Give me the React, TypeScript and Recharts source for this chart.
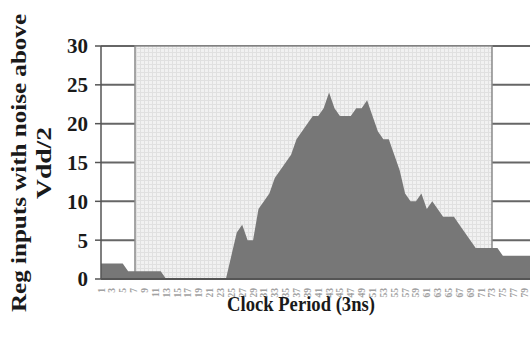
import React from "react";
import {
  AreaChart,
  Area,
  XAxis,
  YAxis,
  CartesianGrid,
  ReferenceArea,
} from "recharts";

// Number of register inputs with noise above Vdd/2, per clock period
const noiseCounts: number[] = [
  2, 2, 2, 2, 2, 1, 1, 1, 1, 1,
  1, 1, 0, 0, 0, 0, 0, 0, 0, 0,
  0, 0, 0, 0, 3, 6, 7, 5, 5, 9,
  10, 11, 13, 14, 15, 16, 18, 19, 20, 21,
  21, 22, 24, 22, 21, 21, 21, 22, 22, 23,
  21, 19, 18, 18, 16, 14, 11, 10, 10, 11,
  9, 10, 9, 8, 8, 8, 7, 6, 5, 4,
  4, 4, 4, 4, 3, 3, 3, 3, 3, 3,
];
const periods: number[] = noiseCounts.map((_, i) => i + 1);
const yTicks: number[] = [0, 5, 10, 15, 20, 25, 30];
const xTicks: number[] = periods.filter((p) => p % 2 === 1);
const windowStart = 7.26;
const windowEnd = 73.0;

const data = periods.map((p, i) => ({ period: p, count: noiseCounts[i] }));

const SERIF = "'Liberation Serif', 'Times New Roman', serif";

const XTick = (props: any) => {
  const { x, y, payload } = props;
  return (
    <g transform={`translate(${x},${y + 1})`}>
      <text
        transform="rotate(-90)"
        textAnchor="end"
        dy={3.5}
        fontSize={9.5}
        fontFamily={SERIF}
        fontWeight="bold"
        fill="#a2a2a2"
      >
        {payload.value}
      </text>
    </g>
  );
};

export default function App() {
  return (
    <div style={{ width: 530, height: 339, background: "#fff" }}>
      <style>{`body{margin:0;background:#fff}`}</style>
      <AreaChart
        width={530}
        height={339}
        data={data}
        margin={{ top: 46, right: 0, bottom: 40, left: 0 }}
      >
        <defs>
          <pattern id="shadeGrid" width="4" height="4" patternUnits="userSpaceOnUse">
            <rect width="4" height="4" fill="#f1f1f1" />
            <path d="M0 0.5H4 M0.5 0V4" stroke="#e0e0e0" strokeWidth="1" />
          </pattern>
        </defs>
        <ReferenceArea
          x1={windowStart}
          x2={windowEnd}
          y1={0}
          y2={30}
          fill="url(#shadeGrid)"
          fillOpacity={1}
          stroke="#8a8a8a"
          strokeWidth={1.5}
          ifOverflow="extendDomain"
        />
        <CartesianGrid
          vertical={false}
          stroke="#666666"
          strokeWidth={2}
          strokeDasharray=""
        />
        <XAxis
          dataKey="period"
          type="number"
          domain={[1, 80]}
          ticks={xTicks}
          interval={0}
          tick={<XTick />}
          tickLine={false}
          axisLine={{ stroke: "#555", strokeWidth: 2 }}
          height={20}
          label={{
            content: () => (
              <text
                x={301}
                y={311}
                textAnchor="middle"
                fontFamily={SERIF}
                fontWeight="bold"
                fontSize={21}
                textLength={148}
                lengthAdjust="spacingAndGlyphs"
                fill="#1a1a1a"
              >
                Clock Period (3ns)
              </text>
            ),
          }}
        />
        <YAxis
          type="number"
          domain={[0, 30]}
          ticks={yTicks}
          interval={0}
          width={101}
          tickSize={6}
          tickMargin={7}
          axisLine={{ stroke: "#555", strokeWidth: 1.5 }}
          tickLine={{ stroke: "#555", strokeWidth: 1.5 }}
          tick={{
            fontFamily: SERIF,
            fontWeight: "bold",
            fontSize: 21,
            fill: "#1a1a1a",
          }}
          label={{
            content: () => (
              <g>
                <text
                  transform="translate(26,163) rotate(-90)"
                  textAnchor="middle"
                  fontFamily={SERIF}
                  fontWeight="bold"
                  fontSize={20}
                  textLength={298}
                  lengthAdjust="spacingAndGlyphs"
                  fill="#1a1a1a"
                >
                  Reg inputs with noise above
                </text>
                <text
                  transform="translate(51,163) rotate(-90)"
                  textAnchor="middle"
                  fontFamily={SERIF}
                  fontWeight="bold"
                  fontSize={20}
                  textLength={72}
                  lengthAdjust="spacingAndGlyphs"
                  fill="#1a1a1a"
                >
                  Vdd/2
                </text>
              </g>
            ),
          }}
        />
        <Area
          type="linear"
          dataKey="count"
          stroke="none"
          fill="#777777"
          fillOpacity={1}
          isAnimationActive={false}
          dot={false}
          activeDot={false}
        />
      </AreaChart>
    </div>
  );
}
